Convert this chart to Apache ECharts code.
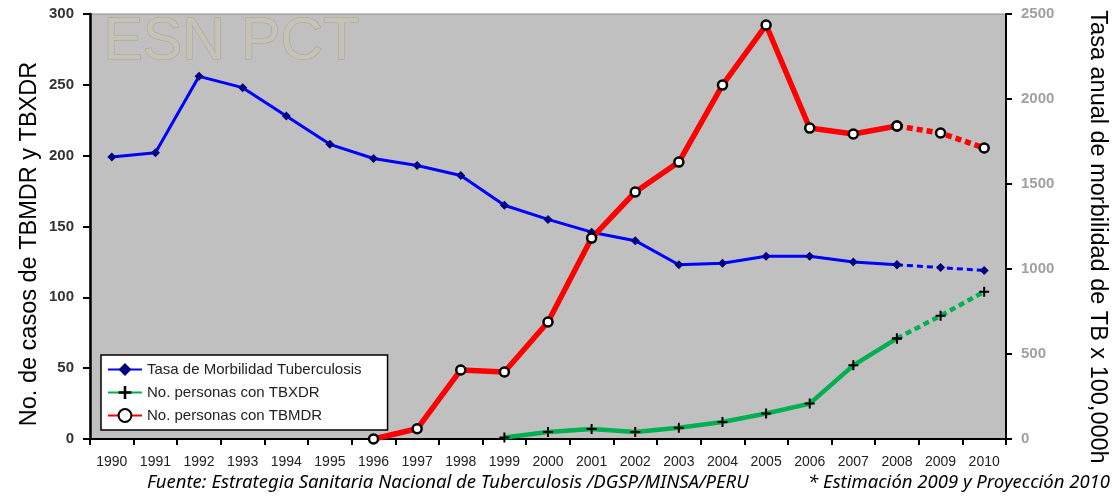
<!DOCTYPE html>
<html>
<head>
<meta charset="utf-8">
<script src="https://cdn.jsdelivr.net/npm/echarts@6/dist/echarts.min.js"></script>
<style>
  html, body { margin: 0; padding: 0; background: #fff; }
  #chart { width: 1115px; height: 497px; }
</style>
</head>
<body>
<div id="chart"></div>
<script>
// años 1990 - 2010 (2009 estimación, 2010 proyección)
const years = ['1990', '1991', '1992', '1993', '1994', '1995', '1996', '1997', '1998', '1999', '2000',
  '2001', '2002', '2003', '2004', '2005', '2006', '2007', '2008', '2009', '2010'];

// Tasa de morbilidad (eje izquierdo)
const tasaMorbilidad = [199, 202, 256, 248, 228, 208, 198, 193, 186, 165, 155,
  146, 140, 123, 124, 129, 129, 125, 123, 121, 119];
// No. personas con TBXDR (eje izquierdo), desde 1999
const tbxdr = [null, null, null, null, null, null, null, null, null, 1, 5,
  7, 5, 8, 12, 18, 25, 52, 71, 87, 104];
// No. personas con TBMDR (eje derecho), desde 1996
const tbmdr = [null, null, null, null, null, null, 0, 60, 406, 394, 688,
  1182, 1453, 1629, 2082, 2435, 1829, 1794, 1841, 1800, 1712];

const leftTicks = { min: 0, max: 300, interval: 50 };
const rightTicks = { min: 0, max: 2500, interval: 500 };
const lastReal = 18; // 2008: desde aqui linea punteada

function solidPart(arr) {
  return arr.map((v, i) => (i <= lastReal ? v : null));
}
function dashedPart(arr) {
  return arr.map((v, i) => (i >= lastReal ? v : null));
}

const plusPath = 'path://M4,0h2v4h4v2h-4v4h-2v-4h-4v-2h4z';

const blueStyle = {
  lineColor: '#0000ff', width: 3,
  symbol: 'diamond', symbolSize: 9,
  itemStyle: { color: '#000080' },
};
const greenStyle = {
  lineColor: '#00b050', width: 4.5,
  symbol: plusPath, symbolSize: 10,
  itemStyle: { color: '#000' },
};
const redStyle = {
  lineColor: '#ff0000', width: 5.5,
  symbol: 'circle', symbolSize: 9,
  itemStyle: { color: '#fff', borderColor: '#000', borderWidth: 2.5 },
};

function makeSeries(name, data, st, yIndex, dashed) {
  return {
    name: name,
    type: 'line',
    yAxisIndex: yIndex,
    data: dashed ? dashedPart(data) : solidPart(data),
    symbol: st.symbol,
    symbolSize: st.symbolSize,
    showSymbol: true,
    connectNulls: false,
    lineStyle: { color: st.lineColor, width: st.width, type: dashed ? [6, 4] : 'solid' },
    itemStyle: st.itemStyle,
    color: st.lineColor,
    animation: false,
  };
}

const myChart = echarts.init(document.getElementById('chart'));
const option = {
  animation: false,
  grid: {
    left: 90,
    right: 109,
    top: 14,
    bottom: 58,
    show: true,
    backgroundColor: '#c0c0c0',
    borderColor: '#8a8a8a',
    borderWidth: 1,
  },
  legend: {
    orient: 'vertical',
    left: 101,
    top: 355,
    data: ['Tasa de Morbilidad Tuberculosis', 'No. personas con TBXDR', 'No. personas con TBMDR'],
    backgroundColor: '#fff',
    borderColor: '#000',
    borderWidth: 1.5,
    borderRadius: 0,
    padding: [7, 26, 7, 6],
    itemGap: 8,
    itemWidth: 34,
    itemHeight: 16,
    textStyle: { fontFamily: 'Liberation Sans, Arial, sans-serif', fontSize: 15, color: '#222' },
  },
  xAxis: {
    type: 'category',
    data: years,
    boundaryGap: true,
    axisLine: { lineStyle: { color: '#000', width: 2 } },
    axisTick: { show: true, length: 6, lineStyle: { color: '#000', width: 2 } },
    axisLabel: {
      interval: 0,
      margin: 16,
      fontFamily: 'Liberation Sans, Arial, sans-serif',
      fontSize: 14,
      color: '#222',
    },
  },
  yAxis: [
    {
      type: 'value',
      min: leftTicks.min,
      max: leftTicks.max,
      interval: leftTicks.interval,
      position: 'left',
      splitLine: { show: false },
      axisLine: { show: true, lineStyle: { color: '#000', width: 2.5 } },
      axisTick: { show: true, length: 7, lineStyle: { color: '#000', width: 2 } },
      axisLabel: {
        margin: 16,
        fontFamily: 'Liberation Sans, Arial, sans-serif',
        fontSize: 15,
        fontWeight: 'bold',
        color: '#333',
      },
    },
    {
      type: 'value',
      min: rightTicks.min,
      max: rightTicks.max,
      interval: rightTicks.interval,
      position: 'right',
      splitLine: { show: false },
      axisLine: { show: true, lineStyle: { color: '#000', width: 2 } },
      axisTick: { show: true, length: 6, lineStyle: { color: '#000', width: 2 } },
      axisLabel: {
        margin: 15,
        fontFamily: 'Liberation Sans, Arial, sans-serif',
        fontSize: 15,
        fontWeight: 'bold',
        color: '#a0a0a0',
        formatter: (v) => String(v),
      },
    },
  ],
  graphic: [
    {
      type: 'text',
      left: 103,
      top: 13,
      z: 1,
      style: {
        text: 'ESN PCT',
        fontFamily: 'Liberation Sans, Arial, sans-serif',
        fontSize: 59,
        fill: '#c5c2b8',
        stroke: '#aaa28c',
        lineWidth: 1,
      },
    },
    {
      type: 'text',
      x: 30,
      y: 244,
      rotation: Math.PI / 2,
      style: {
        text: 'No. de casos de TBMDR y TBXDR',
        fontFamily: 'Liberation Sans, Arial, sans-serif',
        fontSize: 23.5,
        fill: '#000',
        textAlign: 'center',
        textVerticalAlign: 'middle',
      },
    },
    {
      type: 'text',
      x: 1097,
      y: 237,
      rotation: -Math.PI / 2,
      style: {
        text: 'Tasa anual de morbilidad de TB x 100,000h',
        fontFamily: 'Liberation Sans, Arial, sans-serif',
        fontSize: 23.5,
        fill: '#000',
        textAlign: 'center',
        textVerticalAlign: 'middle',
      },
    },
    {
      type: 'text',
      x: 147,
      y: 483,
      style: {
        text: 'Fuente: Estrategia Sanitaria Nacional de Tuberculosis /DGSP/MINSA/PERU',
        fontFamily: 'Noto Sans, sans-serif',
        fontStyle: 'italic',
        fontSize: 18.5,
        fill: '#000',
        textVerticalAlign: 'middle',
      },
    },
    {
      type: 'text',
      x: 1110,
      y: 483,
      style: {
        text: '* Estimación 2009 y Proyección 2010',
        fontFamily: 'Noto Sans, sans-serif',
        fontStyle: 'italic',
        fontSize: 18.5,
        fill: '#000',
        textAlign: 'right',
        textVerticalAlign: 'middle',
      },
    },
  ],
  series: [
    makeSeries('Tasa de Morbilidad Tuberculosis', tasaMorbilidad, blueStyle, 0, false),
    makeSeries('No. personas con TBXDR', tbxdr, greenStyle, 0, false),
    makeSeries('No. personas con TBMDR', tbmdr, redStyle, 1, false),
    makeSeries('Tasa (proyección)', tasaMorbilidad, blueStyle, 0, true),
    makeSeries('TBXDR (proyección)', tbxdr, greenStyle, 0, true),
    makeSeries('TBMDR (proyección)', tbmdr, redStyle, 1, true),
  ],
};
myChart.setOption(option);
</script>
</body>
</html>
